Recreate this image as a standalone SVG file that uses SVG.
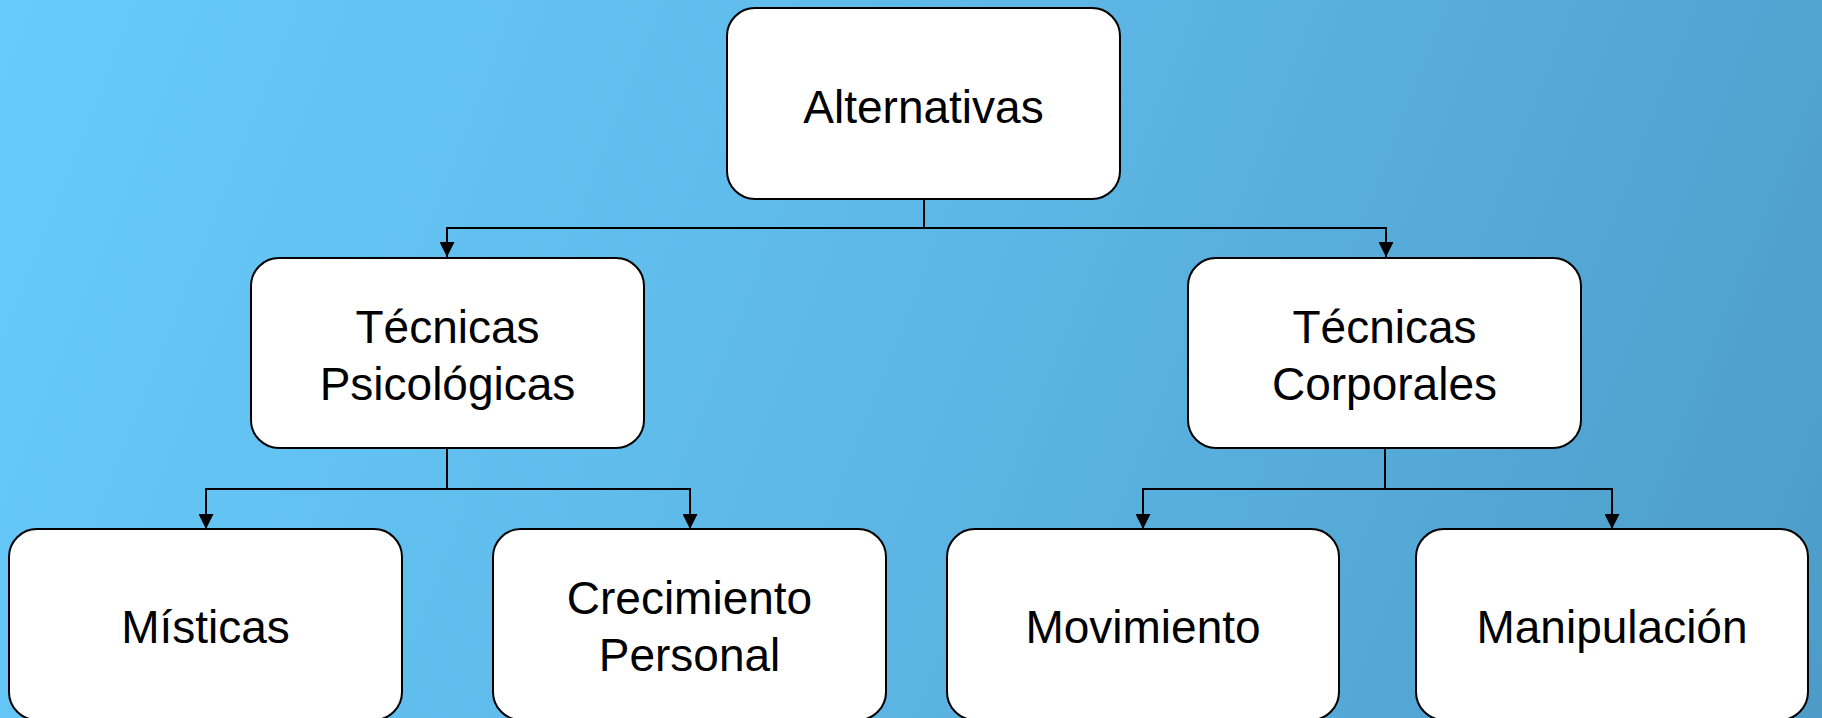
<svg xmlns="http://www.w3.org/2000/svg" width="1822" height="718" viewBox="0 0 1822 718">
<defs>
<linearGradient id="bg" x1="0" y1="0" x2="1822" y2="718" gradientUnits="userSpaceOnUse">
<stop offset="0" stop-color="#67CBFB"/>
<stop offset="0.5" stop-color="#5DB7E6"/>
<stop offset="1" stop-color="#4D9CC8"/>
</linearGradient>
<marker id="arr" markerWidth="15" markerHeight="15" refX="15" refY="7.5" orient="auto" markerUnits="userSpaceOnUse">
<path d="M0,0 L15,7.5 L0,15 Z" fill="#000"/>
</marker>
</defs>
<style>
.box{fill:#fff;stroke:#000;stroke-width:2}
.lbl{font-family:"Liberation Sans",Arial,sans-serif;font-size:46px;fill:#000;text-anchor:middle}
.con{fill:none;stroke:#000;stroke-width:2}
</style>
<rect x="0" y="0" width="1822" height="718" fill="url(#bg)"/>
<g id="connectors">
<path class="con" d="M924,199 V228"/>
<path class="con" d="M924,228 H447 V257" marker-end="url(#arr)"/>
<path class="con" d="M924,228 H1386 V257" marker-end="url(#arr)"/>
<path class="con" d="M447,448 V489"/>
<path class="con" d="M447,489 H206 V529" marker-end="url(#arr)"/>
<path class="con" d="M447,489 H690 V529" marker-end="url(#arr)"/>
<path class="con" d="M1385,448 V489"/>
<path class="con" d="M1385,489 H1143 V529" marker-end="url(#arr)"/>
<path class="con" d="M1385,489 H1612 V529" marker-end="url(#arr)"/>
</g>
<g id="alternativas">
<rect class="box" x="727" y="8" width="393" height="191" rx="28"/>
<text class="lbl" x="923.5" y="123">Alternativas</text>
</g>
<g id="tecnicas-psicologicas">
<rect class="box" x="251" y="258" width="393" height="190" rx="28"/>
<text class="lbl" x="447.5" y="343">Técnicas</text>
<text class="lbl" x="447.5" y="400">Psicológicas</text>
</g>
<g id="tecnicas-corporales">
<rect class="box" x="1188" y="258" width="393" height="190" rx="28"/>
<text class="lbl" x="1384.5" y="343">Técnicas</text>
<text class="lbl" x="1384.5" y="400">Corporales</text>
</g>
<g id="misticas">
<rect class="box" x="9" y="529" width="393" height="191" rx="28"/>
<text class="lbl" x="205.5" y="643">Místicas</text>
</g>
<g id="crecimiento-personal">
<rect class="box" x="493" y="529" width="393" height="191" rx="28"/>
<text class="lbl" x="689.5" y="614">Crecimiento</text>
<text class="lbl" x="689.5" y="671">Personal</text>
</g>
<g id="movimiento">
<rect class="box" x="947" y="529" width="392" height="191" rx="28"/>
<text class="lbl" x="1143" y="643">Movimiento</text>
</g>
<g id="manipulacion">
<rect class="box" x="1416" y="529" width="392" height="191" rx="28"/>
<text class="lbl" x="1612" y="643">Manipulación</text>
</g>
</svg>
